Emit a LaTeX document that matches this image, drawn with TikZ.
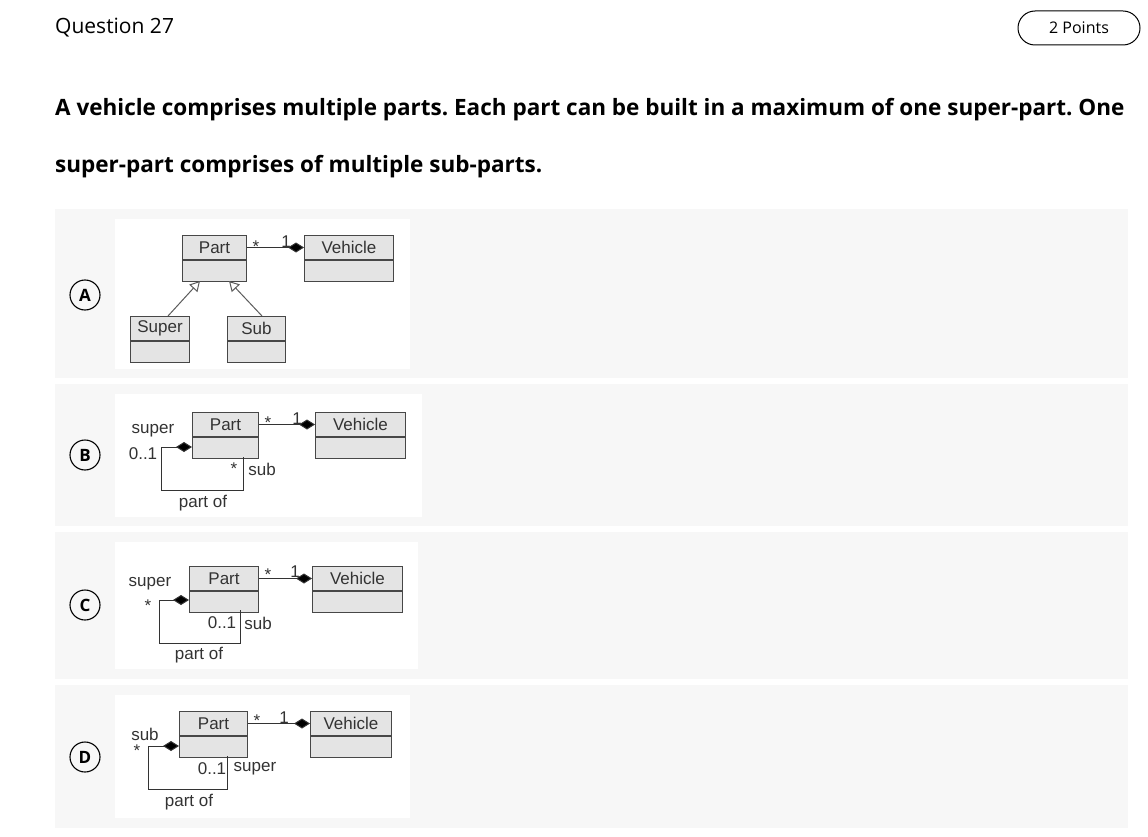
\documentclass[tikz,border=0pt]{standalone}
\usepackage{fontspec}
\setmainfont{Open Sans}
\newfontfamily\arial{Liberation Sans}
\usetikzlibrary{arrows.meta}
\frenchspacing
\definecolor{panel}{HTML}{F7F7F7}
\definecolor{boxfill}{HTML}{E4E4E4}
\definecolor{ink}{HTML}{333333}
\tikzset{
  cls/.style={draw=ink!90, fill=boxfill, line width=1pt, inner sep=0pt, anchor=north west, font=\arial\fontsize{17}{17}\selectfont, text=ink},
  lbl/.style={font=\arial\fontsize{17}{17}\selectfont, text=ink, inner sep=0pt},
  conn/.style={draw=ink, line width=1pt},
  comp/.style={conn, -{Diamond[fill=black, length=16pt, width=10pt]}},
  gen/.style={conn, draw=ink!80, -{Triangle[open, fill=white, length=10pt, width=11pt]}},
  opt/.style={circle, draw=black, line width=1.1pt, minimum size=30pt, inner sep=0pt, font=\bfseries\fontsize{17}{17}\selectfont},
  headtxt/.style={anchor=west, inner sep=0pt, font=\bfseries\fontsize{22.5}{22.5}\selectfont},
}
\newcommand{\umlbox}[6]{% name, x, y, w, text, id
  \node[cls, minimum width=#4pt, minimum height=24pt] (#6) at (#2,#3) {#5};
  \node[cls, minimum width=#4pt, minimum height=21pt] (#6b) at (#6.south west) {};
}
\begin{document}
\begin{tikzpicture}[x=1pt,y=-1pt]
\useasboundingbox[fill=white] (0,0) rectangle (1148,837);
\node[anchor=west, inner sep=0pt, font=\fontsize{21}{21}\selectfont] (q) at (55,28) {Question 27};
\node[draw=black, line width=1pt, rounded corners=17pt, minimum width=122pt, minimum height=34pt, font=\fontsize{16}{16}\selectfont] (pts) at (1079,28) {2 Points};
\node[headtxt] (t1) at (55,110) {A vehicle comprises multiple parts. Each part can be built in a maximum of one super-part. One};
\node[headtxt] (t2) at (55,167) {super-part comprises of multiple sub-parts.};
% panels
\fill[panel] (55,209) rectangle (1128,378);
\fill[panel] (55,384) rectangle (1128,526);
\fill[panel] (55,532) rectangle (1128,679);
\fill[panel] (55,685) rectangle (1128,828);
\fill[white] (115,219) rectangle (410,369);
\fill[white] (115,394) rectangle (422,517);
\fill[white] (115,542) rectangle (418,669);
\fill[white] (115,695) rectangle (410,818);
\node[opt] (oa) at (85,295) {A};
\node[opt] (ob) at (85,455) {B};
\node[opt] (oc) at (85,605) {C};
\node[opt] (od) at (85,757) {D};
% ---- A
\umlbox{}{182}{235}{64}{Part}{pa}
\umlbox{}{304}{235}{89}{Vehicle}{va}
\umlbox{}{130}{316}{59}{Super}{sa}
\umlbox{}{227}{316}{58}{Sub}{ua}
\draw[comp] (pa.east) -- (va.west);
\node[lbl] (sa1) at (256,247) {*};
\node[lbl] (sa2) at (286,242) {1};
\coordinate (ga1) at (168,316); \coordinate (ga2) at (200,281);
\coordinate (gb1) at (262,316); \coordinate (gb2) at (229,281);
\draw[gen] (ga1) -- (ga2);
\draw[gen] (gb1) -- (gb2);
% ---- B
\umlbox{}{192}{412}{66}{Part}{pb}
\umlbox{}{315}{412}{90}{Vehicle}{vb}
\draw[comp] (pb.east) -- (vb.west);
\node[lbl] (b1) at (268,423) {*};
\node[lbl] (b2) at (297,419) {1};
\coordinate (bl1) at (243,457);
\draw[comp] (bl1) -- (243,490) -- (161,490) -- (161,447) -- (pbb.west |- 0,447);
\node[lbl] (b3) at (153,431) {super};
\node[lbl] (b4) at (143,454) {0..1};
\node[lbl] (b5) at (234,469) {*};
\node[lbl] (b6) at (262,469) {sub};
\node[lbl] (b7) at (203,503) {part of};
% ---- C
\umlbox{}{189}{566}{69}{Part}{pc}
\umlbox{}{312}{566}{90}{Vehicle}{vc}
\draw[comp] (pc.east) -- (vc.west);
\node[lbl] (c1) at (268,575) {*};
\node[lbl] (c2) at (295,572) {1};
\coordinate (cl1) at (240,610);
\draw[comp] (cl1) -- (240,643) -- (159,643) -- (159,600) -- (pcb.west |- 0,600);
\node[lbl] (c3) at (150,584) {super};
\node[lbl] (c4) at (148,606) {*};
\node[lbl] (c5) at (222,623) {0..1};
\node[lbl] (c6) at (258,623) {sub};
\node[lbl] (c7) at (199,655) {part of};
% ---- D
\umlbox{}{179}{711}{68}{Part}{pd}
\umlbox{}{310}{711}{81}{Vehicle}{vd}
\draw[comp] (pd.east) -- (vd.west);
\node[lbl] (d1) at (257,721) {*};
\node[lbl] (d2) at (284,718) {1};
\coordinate (dl1) at (227,756);
\draw[comp] (dl1) -- (227,789) -- (148,789) -- (148,746) -- (pdb.west |- 0,746);
\node[lbl] (d3) at (145,734) {sub};
\node[lbl] (d4) at (137,751) {*};
\node[lbl] (d5) at (212,769) {0..1};
\node[lbl] (d6) at (255,769) {super};
\node[lbl] (d7) at (189,802) {part of};
\end{tikzpicture}
\end{document}
